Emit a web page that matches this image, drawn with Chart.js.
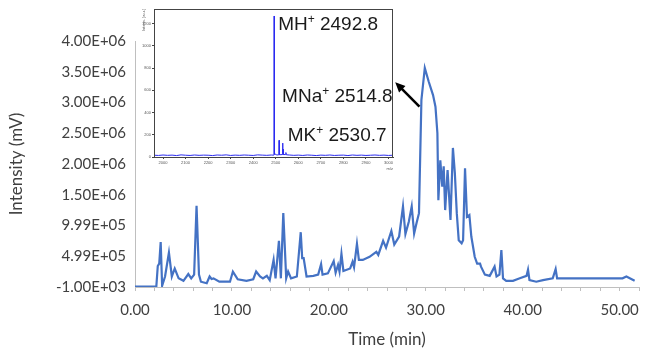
<!DOCTYPE html>
<html>
<head>
<meta charset="utf-8">
<script src="https://cdn.jsdelivr.net/npm/chart.js@4.4.1/dist/chart.umd.min.js"></script>
<style>
  html, body { margin: 0; padding: 0; background: #fff; }
  #wrap { position: relative; width: 650px; height: 351px; }
  #main { position: absolute; left: 0; top: 0; }
  #inset { position: absolute; left: 141px; top: 3px; background: #fff; }
</style>
</head>
<body>
<div id="wrap">
  <canvas id="main" width="650" height="351"></canvas>
  <canvas id="inset" width="254" height="168"></canvas>
</div>
<script>
// Chromatogramme principal : temps (min) et intensité (mV)
const timeMin = [
  0.0, 2.2, 2.35, 2.5, 2.65, 2.8, 3.1, 3.5, 3.8, 4.1, 4.5, 5.0, 5.5, 5.8, 6.1, 6.35, 6.6, 6.8,
  7.4, 7.7, 7.9, 8.1, 8.7, 9.8, 10.1, 10.6, 11.5, 12.2, 12.5, 12.9, 13.2, 13.6, 13.9, 14.3,
  14.5, 14.85, 15.05, 15.3, 15.6, 15.8, 16.1, 16.7, 17.1, 17.25, 17.4, 17.7, 18.4, 18.9, 19.2,
  19.35, 19.9, 20.5, 20.7, 20.95, 21.1, 21.3, 21.5, 22.2, 22.45, 22.6, 22.9, 23.1, 23.5, 24.2,
  24.9, 25.1, 25.6, 25.9, 26.45, 26.75, 27.25, 27.65, 27.9, 28.25, 28.55, 28.8, 29.05, 29.3,
  29.55, 29.9, 30.3, 30.75, 31.0, 31.2, 31.3, 31.5, 31.7, 31.85, 32.0, 32.25, 32.55, 32.8,
  33.0, 33.2, 33.4, 33.7, 33.85, 34.05, 34.25, 34.5, 34.7, 35.05, 35.3, 35.6, 35.7, 36.1,
  36.6, 37.1, 37.3, 37.6, 37.8, 37.97, 38.3, 39.0, 39.7, 40.4, 40.55, 40.7, 41.4, 42.1, 43.1,
  43.4, 43.55, 50.3, 50.7, 51.55
];
const intensity = [
  5000, 5000, 340000, 380000, 730000, 20000, 170000, 560000, 170000, 300000, 140000, 100000,
  210000, 140000, 200000, 1320000, 200000, 85000,
  60000, 170000, 130000, 140000, 85000, 85000, 250000, 125000, 100000, 125000, 250000, 170000,
  140000, 180000, 110000, 440000,
  140000, 750000, 140000, 1200000, 140000, 250000, 140000, 170000, 890000, 470000, 470000,
  170000, 180000, 200000, 370000,
  200000, 220000, 420000, 230000, 360000, 250000, 540000, 260000, 300000, 410000, 320000,
  700000, 440000, 440000, 490000,
  570000, 520000, 750000, 640000, 910000, 690000, 820000, 1310000, 860000, 1060000, 1310000,
  870000, 1040000, 1200000,
  3040000, 3560000, 3340000, 3120000, 2930000, 2500000, 1410000, 2060000, 1630000, 1960000,
  1250000, 1900000, 1090000, 2260000,
  1850000, 1200000, 760000, 710000, 760000, 1930000, 1140000, 1170000, 820000, 490000, 380000,
  380000, 330000, 200000,
  180000, 330000, 170000, 200000, 600000, 140000, 100000, 100000, 140000, 180000, 280000,
  110000, 85000, 110000, 140000,
  290000, 140000, 140000, 170000, 100000
];
const yTickLabels = ['-1.00E+03', '4.99E+05', '9.99E+05', '1.50E+06', '2.00E+06',
  '2.50E+06', '3.00E+06', '3.50E+06', '4.00E+06'];
const xLabelValues = [0, 10, 20, 30, 40, 50];
const xTickLabels = ['0.00', '10.00', '20.00', '30.00', '40.00', '50.00'];

// Spectre de masse (encart)
const mz = [
  1960, 1980, 2000, 2020, 2040, 2060, 2080, 2100, 2120, 2140, 2160, 2180, 2200, 2220, 2240,
  2260, 2280, 2300, 2320, 2340, 2360, 2380, 2400, 2420, 2440, 2460, 2480, 2488,
  2491.9, 2492.8, 2493.3, 2493.8, 2494.4, 2496, 2505, 2513.6, 2514.8, 2515.5, 2516.2, 2517,
  2529.6, 2530.7, 2531.4, 2532.2, 2533, 2543, 2545, 2547,
  2560, 2580, 2600, 2620, 2640, 2660, 2680, 2700, 2720, 2740, 2760, 2780, 2800, 2820, 2840,
  2860, 2880, 2900, 2920, 2940, 2960, 2980, 3000, 3020
];
const counts = [
  16, 14, 18, 15, 17, 13, 19, 16, 14, 18, 15, 17, 16, 13, 18,
  16, 19, 14, 17, 15, 18, 16, 14, 19, 17, 15, 18, 17,
  20, 1270, 25, 950, 22, 30, 18, 20, 150, 60, 95, 20,
  22, 125, 40, 70, 22, 22, 40, 20,
  18, 15, 17, 14, 18, 16, 13, 17, 15, 18, 14, 16, 17, 13, 18,
  15, 17, 14, 16, 18, 15, 17, 14, 16
];
const insetXTicks = [2000, 2100, 2200, 2300, 2400, 2500, 2600, 2700, 2800, 2900, 3000];
const insetYTicks = [0, 200, 400, 600, 800, 1000, 1200];
const peakIons = ['MH', 'MNa', 'MK'];
const peakMz = [2492.8, 2514.8, 2530.7];
const peakText = ['2492.8', '2514.8', '2530.7'];

const textColor = '#404040';
const axisColor = '#bfbfbf';
const uiFont = 'Lato, "Open Sans", sans-serif';

// Flèche noire entre le pic principal et l'encart
const arrowPlugin = {
  id: 'arrow',
  afterDatasetsDraw(chart) {
    const { ctx, scales: { x, y } } = chart;
    const x1 = x.getPixelForValue(29.35), y1 = y.getPixelForValue(2930000);
    const x2 = x.getPixelForValue(26.85), y2 = y.getPixelForValue(3330000);
    const a = Math.atan2(y2 - y1, x2 - x1);
    ctx.save();
    ctx.strokeStyle = '#000';
    ctx.fillStyle = '#000';
    ctx.lineWidth = 2.5;
    ctx.beginPath();
    ctx.moveTo(x1, y1);
    ctx.lineTo(x2 - 8 * Math.cos(a), y2 - 8 * Math.sin(a));
    ctx.stroke();
    ctx.beginPath();
    ctx.moveTo(x2, y2);
    ctx.lineTo(x2 - 10 * Math.cos(a) + 4.5 * Math.sin(a), y2 - 10 * Math.sin(a) - 4.5 * Math.cos(a));
    ctx.lineTo(x2 - 10 * Math.cos(a) - 4.5 * Math.sin(a), y2 - 10 * Math.sin(a) + 4.5 * Math.cos(a));
    ctx.closePath();
    ctx.fill();
    ctx.restore();
  }
};

new Chart(document.getElementById('main'), {
  type: 'line',
  data: {
    datasets: [{
      data: timeMin.map((t, i) => ({ x: t, y: intensity[i] })),
      borderColor: '#4472C4',
      borderWidth: 2.2,
      pointRadius: 0,
      tension: 0,
      fill: false
    }]
  },
  options: {
    responsive: false,
    animation: false,
    devicePixelRatio: 1,
    layout: { padding: { top: 41, right: 11, left: 0, bottom: 0 } },
    plugins: { legend: { display: false }, tooltip: { enabled: false } },
    scales: {
      x: {
        type: 'linear',
        min: 0,
        max: 52,
        afterFit: s => { s.height = 64; },
        grid: { drawOnChartArea: false, drawTicks: true, tickLength: 4, color: axisColor },
        border: { display: true, color: axisColor, width: 1 },
        ticks: {
          stepSize: 2,
          autoSkip: false,
          maxRotation: 0,
          padding: 10,
          color: textColor,
          font: { family: uiFont, size: 15 },
          callback: v => {
            const i = xLabelValues.indexOf(v);
            return i >= 0 ? xTickLabels[i] : '';
          }
        },
        title: {
          display: true,
          text: 'Time (min)',
          color: textColor,
          font: { family: uiFont, size: 17 },
          padding: { top: 0, bottom: 1 }
        }
      },
      y: {
        min: -1000,
        max: 3999000,
        afterFit: s => { s.width = 135; },
        grid: { display: false, drawTicks: false },
        border: { display: true, color: axisColor, width: 1 },
        ticks: {
          stepSize: 500000,
          padding: 9,
          color: textColor,
          font: { family: uiFont, size: 15 },
          callback: (v, i) => yTickLabels[i]
        },
        title: {
          display: true,
          text: 'Intensity (mV)',
          color: textColor,
          font: { family: uiFont, size: 17 },
          padding: { top: 6, bottom: 0 }
        }
      }
    }
  },
  plugins: [arrowPlugin]
});

// Cadre et annotations de l'encart
const insetPlugin = {
  id: 'insetFrame',
  afterDatasetsDraw(chart) {
    const { ctx, chartArea: ca, scales: { x, y } } = chart;
    ctx.save();
    ctx.strokeStyle = '#444';
    ctx.lineWidth = 1;
    ctx.strokeRect(ca.left + 0.5, ca.top + 0.5, ca.right - ca.left - 1, ca.bottom - ca.top);
    const labelY = [1188, 544, 190];
    const dx = [4, 3, 5];
    ctx.fillStyle = '#1a1a1a';
    ctx.textBaseline = 'middle';
    peakIons.forEach((ion, i) => {
      let px = x.getPixelForValue(peakMz[i]) + dx[i];
      const py = y.getPixelForValue(labelY[i]);
      ctx.font = '19px "Liberation Sans", Arial, sans-serif';
      ctx.fillText(ion, px, py);
      px += ctx.measureText(ion).width;
      ctx.font = '12px "Liberation Sans", Arial, sans-serif';
      ctx.fillText('+', px, py - 5);
      px += ctx.measureText('+').width;
      ctx.font = '19px "Liberation Sans", Arial, sans-serif';
      ctx.fillText(' ' + peakText[i], px, py);
    });
    ctx.restore();
  }
};

new Chart(document.getElementById('inset'), {
  type: 'line',
  data: {
    datasets: [{
      data: mz.map((m, i) => ({ x: m, y: counts[i] })),
      borderColor: '#2b2bf0',
      borderWidth: 1,
      pointRadius: 0,
      tension: 0,
      fill: false
    }]
  },
  options: {
    responsive: false,
    animation: false,
    devicePixelRatio: 1,
    layout: { padding: { top: 6, right: 2, left: 0, bottom: 0 } },
    plugins: { legend: { display: false }, tooltip: { enabled: false } },
    scales: {
      x: {
        type: 'linear',
        min: 1960,
        max: 3020,
        afterFit: s => { s.height = 14; },
        afterBuildTicks: s => { s.ticks = insetXTicks.map(v => ({ value: v })); },
        grid: { drawOnChartArea: false, tickLength: 2, color: '#444' },
        border: { color: '#444' },
        ticks: { autoSkip: false, maxRotation: 0, padding: 1, color: '#555', font: { size: 4 },
          callback: v => String(v) },
        title: { display: true, text: 'm/z', align: 'end', color: '#555', font: { size: 4 }, padding: 0 }
      },
      y: {
        min: 0,
        max: 1333,
        afterFit: s => { s.width = 13; },
        afterBuildTicks: s => { s.ticks = insetYTicks.map(v => ({ value: v })); },
        grid: { drawOnChartArea: false, tickLength: 2, color: '#444' },
        border: { color: '#444' },
        ticks: { autoSkip: false, padding: 1, color: '#555', font: { size: 4 },
          callback: v => String(v) },
        title: { display: true, text: 'Intens. [a.u.]', align: 'end', color: '#555', font: { size: 4 }, padding: 0 }
      }
    }
  },
  plugins: [insetPlugin]
});
</script>
</body>
</html>
